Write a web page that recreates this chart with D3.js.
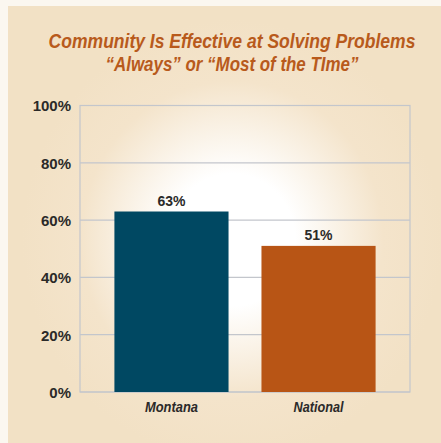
<!DOCTYPE html>
<html><head><meta charset="utf-8">
<script src="https://cdn.jsdelivr.net/npm/d3@7/dist/d3.min.js"></script>
<style>html,body{margin:0;padding:0;background:#fff;}svg{display:block;}</style>
</head><body>
<script>
const categories = ["Montana", "National"];
const values = [63, 51];
const valueLabels = ["63%", "51%"];
const barColors = ["#004862", "#b85515"];
const yTicks = [0, 20, 40, 60, 80, 100];
const titleLines = ["Community Is Effective at Solving Problems", "\u201cAlways\u201d or \u201cMost of the TIme\u201d"];

const W = 441, H = 443;
const svg = d3.select("body").append("svg").attr("width", W).attr("height", H);
const defs = svg.append("defs");
const rg = defs.append("radialGradient").attr("id","glow")
  .attr("gradientUnits","userSpaceOnUse").attr("cx",232).attr("cy",240).attr("r",210)
  .attr("gradientTransform","translate(232,240) scale(1,1.05) translate(-232,-240)");
rg.append("stop").attr("offset","0").attr("stop-color","#ffffff");
rg.append("stop").attr("offset","0.3").attr("stop-color","#ffffff");
rg.append("stop").attr("offset","0.72").attr("stop-color","#f4e4cb");
rg.append("stop").attr("offset","1").attr("stop-color","#f2e1c5");

svg.append("rect").attr("x",0).attr("y",0).attr("width",W).attr("height",H).attr("fill","#fbf7f0");
svg.append("rect").attr("x",8).attr("y",6).attr("width",W-8).attr("height",H-6).attr("fill","#f2e1c5");
svg.append("rect").attr("x",8).attr("y",6).attr("width",W-8).attr("height",H-6).attr("fill","url(#glow)");

const m = {left:80, right:410, top:105.5, bottom:392};
const x = d3.scaleBand().domain(categories).range([m.left, m.right]).paddingInner(0.224).paddingOuter(0.234);
const y = d3.scaleLinear().domain([0,100]).range([m.bottom, m.top]);

// title: condensed look via horizontal scaling
const titleWidths = [367, 253];
titleLines.forEach((t,i)=>{
  const g = svg.append("g");
  const tx = g.append("text").attr("text-anchor","middle")
    .attr("font-family","'Liberation Sans','Arial',sans-serif").attr("font-weight","bold")
    .attr("font-style","italic").attr("font-size",20).attr("fill","#b85a1c").text(t);
  const natural = tx.node().getComputedTextLength();
  g.attr("transform",`translate(232,${48+i*23}) scale(${titleWidths[i]/natural},1)`);
});

// gridlines
svg.append("g").selectAll("line").data(yTicks).join("line")
  .attr("x1",m.left).attr("x2",m.right).attr("y1",d=>y(d)).attr("y2",d=>y(d))
  .attr("stroke","#c3c6cc").attr("stroke-width",1.2);
svg.append("rect").attr("x",m.left).attr("y",m.top).attr("width",m.right-m.left).attr("height",m.bottom-m.top)
  .attr("fill","none").attr("stroke","#c3c6cc").attr("stroke-width",1.2);

const yAxis = d3.axisLeft(y).tickValues(yTicks).tickFormat(d=>d+"%").tickSize(0).tickPadding(9);
const ga = svg.append("g").attr("transform",`translate(${m.left},0)`).call(yAxis);
ga.select(".domain").remove();
ga.selectAll("text").attr("font-family","'Liberation Sans','Arial',sans-serif").attr("font-weight","bold")
  .attr("font-size",15).attr("fill","#2b2a29").attr("dy","0.36em");

svg.append("g").selectAll("rect").data(values).join("rect")
  .attr("x",(d,i)=>x(categories[i])).attr("width",x.bandwidth())
  .attr("y",d=>y(d)).attr("height",d=>y(0)-y(d)).attr("fill",(d,i)=>barColors[i]);

svg.append("g").selectAll("text").data(values).join("text")
  .attr("x",(d,i)=>x(categories[i])+x.bandwidth()/2).attr("y",d=>y(d)-6)
  .attr("text-anchor","middle").attr("font-family","'Liberation Sans','Arial',sans-serif")
  .attr("font-weight","bold").attr("font-size",14).attr("fill","#2b2a29")
  .text((d,i)=>valueLabels[i]);

const xAxis = d3.axisBottom(x).tickSize(0).tickPadding(0);
const gx = svg.append("g").attr("transform",`translate(0,${m.bottom})`).call(xAxis);
gx.select(".domain").remove();
gx.selectAll("text").attr("font-family","'Liberation Sans','Arial',sans-serif")
  .attr("font-weight","bold").attr("font-style","italic").attr("font-size",14.5).attr("fill","#2b2a29")
  .attr("dy",null).attr("y",19.5)
  .attr("textLength",d=>d==="Montana"?53:50).attr("lengthAdjust","spacingAndGlyphs");
</script>
</body></html>
